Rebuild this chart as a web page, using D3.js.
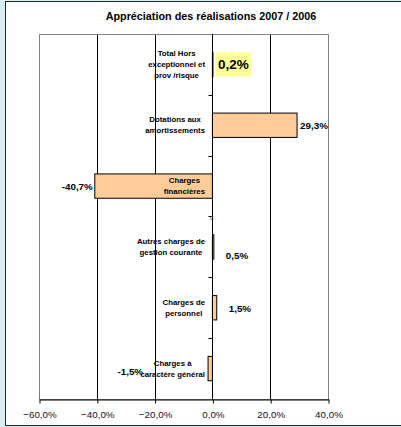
<!DOCTYPE html>
<html>
<head>
<meta charset="utf-8">
<script src="https://cdn.jsdelivr.net/npm/d3@7"></script>
<style>
  body { margin: 0; background: #d9eef0; }
  svg { display: block; font-family: "Liberation Sans", Arial, sans-serif; }
</style>
</head>
<body>
<div id="chart"></div>
<script>
// categories, top to bottom, each split into its display lines
const categories = [
  ["Total  Hors", "exceptionnel et", "prov /risque"],
  ["Dotations aux", "amortissements"],
  ["Charges", "financières"],
  ["Autres charges de", "gestion courante"],
  ["Charges de", "personnel"],
  ["Charges à", "caractère général"]
];
const values = [0.2, 29.3, -40.7, 0.5, 1.5, -1.5];
const valueLabels = ["0,2%", "29,3%", "-40,7%", "0,5%", "1,5%", "-1,5%"];
const xTicks = [-60, -40, -20, 0, 20, 40];
const title = "Appréciation des réalisations 2007 / 2006";

// hand placed value labels in the original (dx from bar end, dy from band centre)
const labelNudge = [[4, 0], [3, 0], [-2, 0], [12, 9], [12, 1], [-65, 3]];

const W = 401, H = 427;
const margin = { top: 34, right: 73, bottom: 28, left: 39 };

const svg = d3.select('#chart')
  .append('svg')
  .attr('width', W)
  .attr('height', H);

// chart area
svg.append('rect')
  .attr('x', 5.5).attr('y', 1.5)
  .attr('width', 400).attr('height', 424)
  .attr('fill', '#fff')
  .attr('stroke', '#1b2b2b');

svg.append('text')
  .attr('x', 211).attr('y', 20)
  .attr('text-anchor', 'middle')
  .attr('font-size', '10.8px')
  .attr('font-weight', 'bold')
  .text(title);

const x = d3.scaleLinear()
  .domain([-60, 40])
  .range([margin.left, W - margin.right]);

const y = d3.scaleBand()
  .domain(d3.range(categories.length))
  .range([margin.top, H - margin.bottom])
  .paddingInner(0.6)
  .paddingOuter(0.3);

const px = v => Math.round(x(v)) + 0.5;

// vertical gridlines
svg.append('g')
  .selectAll('line')
  .data(xTicks.slice(1, -1))
  .enter()
  .append('line')
  .attr('x1', d => px(d)).attr('x2', d => px(d))
  .attr('y1', margin.top).attr('y2', H - margin.bottom)
  .attr('stroke', '#000');

// plot area border
svg.append('rect')
  .attr('x', px(-60)).attr('y', margin.top + 0.5)
  .attr('width', px(40) - px(-60))
  .attr('height', H - margin.bottom - margin.top)
  .attr('fill', 'none')
  .attr('stroke', '#808080');

// bottom axis
const xAxis = svg.append('g')
  .attr('transform', `translate(0.5,${H - margin.bottom + 0.5})`)
  .call(d3.axisBottom(x)
    .tickValues(xTicks)
    .tickSize(4)
    .tickSizeOuter(0)
    .tickFormat(d => d3.format('.1f')(d).replace('.', ',') + '%'));
xAxis.select('.domain').attr('stroke', '#000');
xAxis.selectAll('.tick line').attr('stroke', '#000');
xAxis.selectAll('.tick text')
  .attr('y', 12)
  .attr('font-size', '9.8px')
  .attr('font-family', '"Liberation Sans", Arial, sans-serif')
  .attr('fill', '#111');

// bars
svg.selectAll('.bar')
  .data(values)
  .enter()
  .append('rect')
  .attr('class', 'bar')
  .attr('x', d => x(Math.min(0, d)))
  .attr('y', (d, i) => y(i))
  .attr('width', d => Math.abs(x(d) - x(0)))
  .attr('height', y.bandwidth())
  .attr('fill', '#ffcc99')
  .attr('stroke', '#000')
  .attr('stroke-width', 1);

// y axis at zero with ticks between categories
const y0 = px(0);
svg.append('line')
  .attr('x1', y0).attr('x2', y0)
  .attr('y1', margin.top).attr('y2', H - margin.bottom)
  .attr('stroke', '#000');
svg.append('g')
  .selectAll('line')
  .data(d3.range(1, categories.length))
  .enter()
  .append('line')
  .attr('x1', y0 - 4).attr('x2', y0)
  .attr('y1', i => Math.round(y(i) - y.step() * y.paddingInner() / 2) + 0.5)
  .attr('y2', i => Math.round(y(i) - y.step() * y.paddingInner() / 2) + 0.5)
  .attr('stroke', '#000');

// category labels: block right aligned next to axis, lines centred in the block
const lineH = 11;
categories.forEach((lines, i) => {
  const cy = y(i) + y.bandwidth() / 2;
  const g = svg.append('g');
  const texts = lines.map((t, j) => g.append('text')
    .attr('y', cy + (j - (lines.length - 1) / 2) * lineH)
    .attr('dy', '0.35em')
    .attr('text-anchor', 'middle')
    .attr('font-size', '7.8px')
    .attr('font-weight', 'bold')
    .text(t));
  const maxW = d3.max(texts, t => t.node().getComputedTextLength());
  texts.forEach(t => t.attr('x', 205 - maxW / 2));
});

// stray zero label of the hidden series
svg.append('text')
  .attr('x', 210).attr('y', 220)
  .attr('font-size', '7px')
  .attr('fill', '#555')
  .text('c');

// value labels
values.forEach((v, i) => {
  const cy = y(i) + y.bandwidth() / 2 + labelNudge[i][1];
  const lx = x(v) + labelNudge[i][0];
  if (i === 0) {
    svg.append('rect')
      .attr('x', x(0) + 3).attr('y', y(i))
      .attr('width', 36).attr('height', y.bandwidth())
      .attr('fill', '#ffff99');
    svg.append('text')
      .attr('x', x(0) + 21).attr('y', cy)
      .attr('dy', '0.35em')
      .attr('text-anchor', 'middle')
      .attr('font-size', '13.5px')
      .attr('font-weight', 'bold')
      .text(valueLabels[i]);
    return;
  }
  svg.append('text')
    .attr('x', lx).attr('y', cy)
    .attr('dy', '0.35em')
    .attr('text-anchor', v < 0 ? 'end' : 'start')
    .attr('font-size', '9.8px')
    .attr('font-weight', 'bold')
    .text(valueLabels[i]);
});
</script>
</body>
</html>
